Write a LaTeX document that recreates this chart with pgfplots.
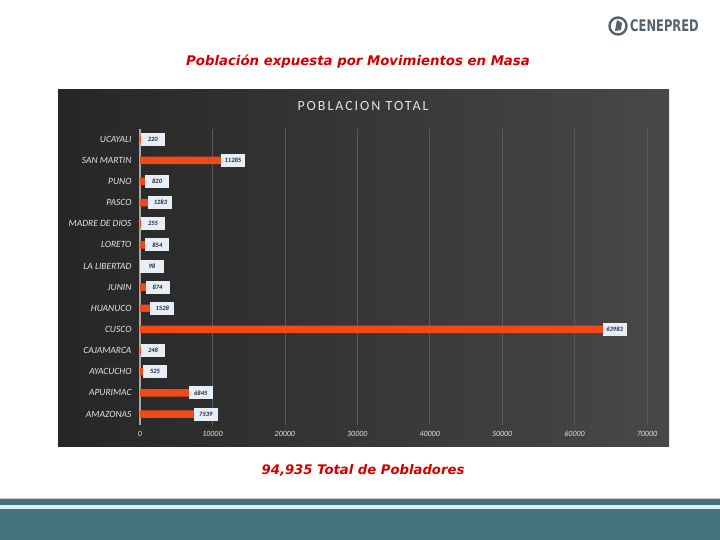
\documentclass[border=0pt]{standalone}
\usepackage{pgfplots}
\pgfplotsset{compat=1.18}
\usepackage{fontspec}
\setmainfont{Carlito}
\newfontfamily\titlefont{DejaVu Sans}
\newfontfamily\logofont{DejaVu Sans}[FakeStretch=0.72]
\definecolor{panelL}{HTML}{262626}
\definecolor{panelR}{HTML}{484848}
\definecolor{titlered}{HTML}{D10000}
\definecolor{teal}{HTML}{44727C}
\definecolor{lightcyan}{HTML}{D8F2F4}
\definecolor{barorange}{HTML}{F04A1A}
\definecolor{labelbg}{HTML}{E8EEF6}
\definecolor{navy}{HTML}{1E2840}
\definecolor{gridgray}{HTML}{595959}
\definecolor{labelgray}{HTML}{E2E2E2}
\definecolor{logogray}{HTML}{56626C}
\begin{document}
\begin{tikzpicture}[x=1pt,y=1pt]
\useasboundingbox (0pt,0pt) rectangle (720pt,540pt);
\fill[white] (0pt,0pt) rectangle (720pt,540pt);
% dark panel
\shade[left color=panelL, right color=panelR] (58pt,93pt) rectangle (669pt,450pt);
% bottom bands
\fill[teal] (0pt,0pt) rectangle (720pt,31pt);
\fill[lightcyan] (0pt,31pt) rectangle (720pt,35pt);
\fill[teal] (0pt,35pt) rectangle (720pt,41pt);
\draw[gray!40, line width=0.6pt] (0pt,41.6pt) -- (720pt,41.6pt);
% logo
\draw[logogray, line width=2.4pt] (618pt,514pt) circle (8.5pt);
\fill[logogray] (615pt,509pt) -- (621pt,510pt) -- (622pt,517pt) -- (617pt,520pt) -- (616pt,515pt) -- cycle;
\node[anchor=west, text=logogray, font=\logofont\bfseries\fontsize{16}{17}\selectfont, inner sep=0pt] at (630pt,514pt) {CENEPRED};
% titles
\node[text=titlered, font=\titlefont\bfseries\itshape\fontsize{13.3}{15}\selectfont] at (358pt,478pt) {Población expuesta por Movimientos en Masa};
\node[text=labelgray, font=\fontsize{14}{16}\selectfont\addfontfeatures{LetterSpace=14}] at (363pt,434pt) {POBLACION TOTAL};
\node[text=titlered, font=\titlefont\bfseries\itshape\fontsize{13.2}{15}\selectfont] at (363pt,70pt) {94,935 Total de Pobladores};
\begin{axis}[
  at={(140pt,115.4pt)}, anchor=south west,
  scale only axis, width=507pt, height=296pt,
  xmin=0, xmax=70000, ymin=-0.5, ymax=13.5,
  xbar, bar width=7.5pt,
  xtick={0,10000,20000,30000,40000,50000,60000,70000},
  scaled x ticks=false,
  xticklabel style={/pgf/number format/1000 sep={}, font=\itshape\fontsize{8}{9}\selectfont, text=labelgray, yshift=-3pt},
  /pgf/number format/assume math mode=true,
  ytick={0,...,13},
  yticklabels={AMAZONAS,APURIMAC,AYACUCHO,CAJAMARCA,CUSCO,HUANUCO,JUNIN,LA LIBERTAD,LORETO,MADRE DE DIOS,PASCO,PUNO,SAN MARTIN,UCAYALI},
  yticklabel style={font=\itshape\fontsize{9.5}{10}\selectfont, text=labelgray, xshift=-5pt},
  major tick length=0pt,
  axis line style={draw=none},
  xmajorgrids, grid style={gridgray, line width=0.6pt},
  point meta=x,
  nodes near coords={\pgfmathprintnumber[1000 sep={},fixed]{\pgfplotspointmeta}},
  every node near coord/.append style={anchor=west, fill=labelbg, text=navy,
     font=\bfseries\itshape\fontsize{6.5}{7}\selectfont, inner sep=1.5pt,
     minimum height=13pt, minimum width=24pt, xshift=-1pt},
  clip=false,
]
\draw[gray!70, line width=1.3pt] (axis cs:0,-0.5) -- (axis cs:0,13.5);
\addplot[fill=barorange, draw=none] coordinates {
 (7539,0) (6845,1) (525,2) (248,3) (63983,4) (1528,5) (874,6) (98,7) (854,8) (255,9) (1283,10) (820,11) (11285,12) (220,13)
};
\end{axis}
\end{tikzpicture}
\end{document}
